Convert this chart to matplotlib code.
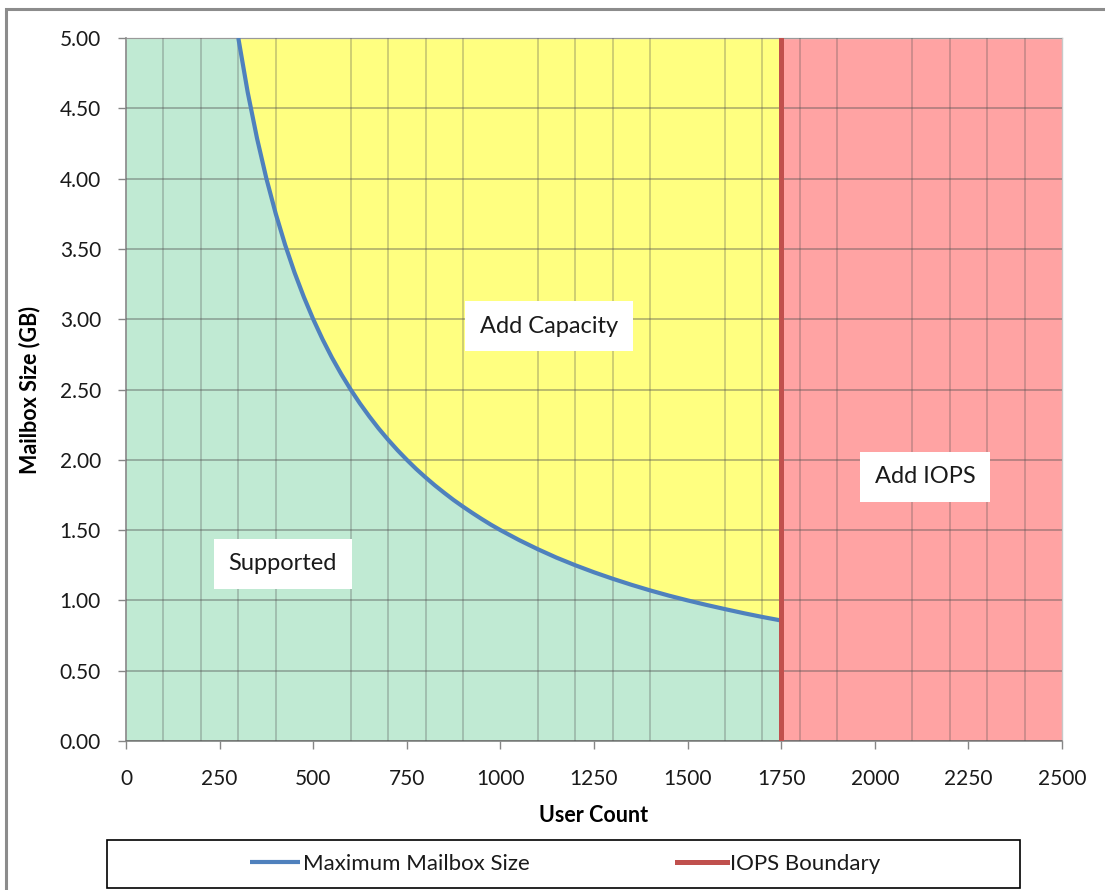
import matplotlib
matplotlib.use("Agg")
import matplotlib.pyplot as plt
from matplotlib.ticker import MultipleLocator, FormatStrFormatter
from matplotlib.patches import Rectangle

plt.rcParams['font.family'] = ['Lato', 'DejaVu Sans']

# ---- data ----
users = [300, 325, 350, 375, 400, 425, 450, 475, 500, 525, 550, 575, 600, 625, 650,
         675, 700, 725, 750, 775, 800, 825, 850, 875, 900, 925, 950, 975, 1000,
         1050, 1100, 1150, 1200, 1250, 1300, 1350, 1400, 1450, 1500, 1550, 1600,
         1650, 1700, 1750]
max_mailbox_gb = [5.000, 4.615, 4.286, 4.000, 3.750, 3.529, 3.333, 3.158, 3.000,
                  2.857, 2.727, 2.609, 2.500, 2.400, 2.308, 2.222, 2.143, 2.069,
                  2.000, 1.935, 1.875, 1.818, 1.765, 1.714, 1.667, 1.622, 1.579,
                  1.538, 1.500, 1.429, 1.364, 1.304, 1.250, 1.200, 1.154, 1.111,
                  1.071, 1.034, 1.000, 0.968, 0.938, 0.909, 0.882, 0.857]
iops_boundary = 1750
x_max = 2500
y_max = 5.0
region_labels = ["Add Capacity", "Add IOPS", "Supported"]
series_names = ["Maximum Mailbox Size", "IOPS Boundary"]

W, H = 1105, 890
fig = plt.figure(figsize=(W / 100, H / 100), dpi=100)

# outer chart border
fig.patches.append(Rectangle((6 / W, -0.05), 1.2, (H - 9) / H + 0.05, transform=fig.transFigure,
                             fill=False, edgecolor='#8c8c8c', linewidth=2.2, zorder=0))

ax = fig.add_axes([126 / W, (H - 741) / H, (1062 - 126) / W, (741 - 38) / H])

green = '#C0EAD3'
yellow = '#FFFF80'
red = '#FFA3A3'

# regions
ax.fill_between([0] + users, [y_max] + max_mailbox_gb, 0, color=green, linewidth=0, zorder=1)
ax.fill_between(users, max_mailbox_gb, y_max, color=yellow, linewidth=0, zorder=1)
ax.axvspan(iops_boundary, x_max, color=red, linewidth=0, zorder=1)

# grid over fills (tinted)
ax.set_axisbelow(False)
ax.xaxis.set_minor_locator(MultipleLocator(100))
ax.grid(which='minor', axis='x', color='#505050', alpha=0.3, linewidth=1.3, zorder=2)
ax.grid(which='major', axis='y', color='#505050', alpha=0.42, linewidth=1.3, zorder=2)
ax.grid(which='major', axis='x', visible=False)

# series
blue_line, = ax.plot(users, max_mailbox_gb, color='#4F81BD', linewidth=3.0,
                     solid_capstyle='butt', solid_joinstyle='round', zorder=4,
                     label=series_names[0])
red_line = ax.axvline(iops_boundary, color='#C0504D', linewidth=3.6, zorder=5,
                      label=series_names[1])

ax.set_xlim(0, x_max)
ax.set_ylim(0, y_max)
ax.xaxis.set_major_locator(MultipleLocator(250))
ax.yaxis.set_major_locator(MultipleLocator(0.5))
ax.yaxis.set_major_formatter(FormatStrFormatter('%.2f'))
ax.tick_params(which='major', direction='out', length=6, width=1, color='#868686',
               labelsize=15, labelcolor='#1a1a1a')
ax.tick_params(axis='x', which='major', pad=14)
ax.tick_params(axis='y', which='major', pad=12)
ax.tick_params(which='minor', length=0)
for s in ['left', 'bottom']:
    ax.spines[s].set_color('#868686')
    ax.spines[s].set_linewidth(1.2)
for s in ['top', 'right']:
    ax.spines[s].set_color('#c8c8c8')
    ax.spines[s].set_linewidth(1.0)

ax.set_xlabel('User Count', fontsize=15.5, fontweight='bold', labelpad=12)
ax.set_ylabel('Mailbox Size (GB)', fontsize=15.5, fontweight='bold', labelpad=14)

# region label boxes
box_kw = dict(fontsize=17, color='#1a1a1a', ha='center', va='center', zorder=6,
              bbox=dict(boxstyle='square,pad=0.62', facecolor='white', edgecolor='none'))
ax.text(1130, 2.95, region_labels[0], **box_kw)
ax.text(2134, 1.88, region_labels[1], **box_kw)
ax.text(419, 1.26, region_labels[2], **box_kw)

# legend box
fig.patches.append(Rectangle((107 / W, (H - 888) / H), (1020 - 107) / W, 48 / H,
                             transform=fig.transFigure, fill=False, edgecolor='black',
                             linewidth=1.2, zorder=1))
leg = fig.legend(handles=[blue_line, red_line], loc='center',
                 bbox_to_anchor=(565 / W, (H - 864) / H), ncol=2, frameon=False,
                 fontsize=16, handlelength=2.25, handletextpad=0.14, columnspacing=6.6)
for t in leg.get_texts():
    t.set_color('#1a1a1a')

fig.savefig('out.png', dpi=100)
